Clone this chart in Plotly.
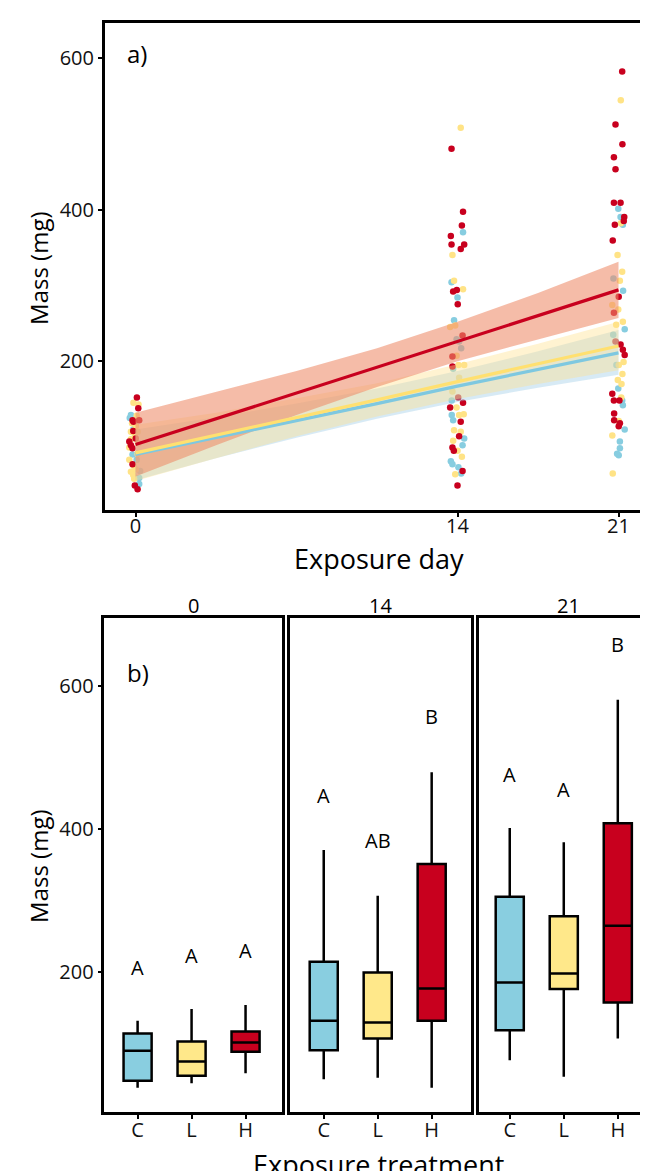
import plotly.graph_objects as go

W, H = 648, 1171
def px(p): return p / W
def py(p): return 1 - p / H

FONT = "Open Sans"
treatments = ["C", "L", "H"]
point_colors = {"C": "#87CDE0", "L": "#FFE386", "H": "#C8001E"}
line_colors = {"C": "#7EC8E0", "L": "#FFE070", "H": "#C8001E"}
box_colors = {"C": "#89CEE0", "L": "#FFE88A", "H": "#C8001E"}
band_colors = {"C": "rgba(150,200,230,0.38)", "L": "rgba(255,226,140,0.40)", "H": "rgba(238,140,105,0.58)"}
days = [0, 14, 21]
day_labels = ["0", "14", "21"]

# ---- panel a: individual masses (day, jitter offset, mass) ----
C_day0_jit = [-0.2, -0.06, 0.12, -0.13, 0.16, 0.16, -0.25, 0.0, -0.1, 0.05, 0.2]
C_day0_mass = [129, 122, 92, 77, 46, 38, 125, 115, 110, 70, 55]
C_day14_jit = [0.24, -0.26, 0.0, -0.15, -0.04, 0.07, 0.16, -0.19, -0.25, -0.25, -0.19, 0.29, 0.22, -0.29, -0.22, 0.04, 0.16]
C_day14_mass = [370, 304, 284, 254, 229, 226, 217, 190, 148, 129, 122, 98, 89, 68, 64, 60, 52]
C_day21_jit = [-0.01, 0.09, 0.19, -0.22, 0.2, 0.27, -0.23, -0.09, -0.01, 0.19, 0.16, 0.27, 0.06, 0.06, 0.01, -0.06]
C_day21_mass = [401, 390, 380, 309, 293, 242, 235, 195, 164, 142, 148, 110, 94, 85, 76, 78]

L_day0_jit = [-0.09, 0.13, 0.01, -0.2, 0.09, -0.03, -0.2, -0.27, 0.09, -0.27, -0.09, -0.2, 0.01, -0.06, 0.05, -0.15, 0.1, -0.1]
L_day0_mass = [145, 143, 114, 107, 107, 101, 97, 86, 78, 70, 62, 54, 57, 45, 128, 118, 92, 50]
L_day14_jit = [0.14, -0.22, -0.15, 0.24, -0.32, -0.1, -0.04, 0.29, 0.04, 0.07, -0.04, 0.07, -0.15, 0.14, -0.19, 0.0, 0.19, -0.1, -0.22, 0.27]
L_day14_mass = [508, 340, 306, 295, 245, 247, 207, 195, 195, 178, 139, 129, 109, 107, 95, 82, 74, 51, 160, 130]
L_day21_jit = [0.1, 0.1, -0.04, 0.16, 0.06, -0.27, -0.01, -0.1, 0.19, 0.22, 0.01, 0.17, -0.03, 0.13, 0.12, 0.01, -0.27, -0.25]
L_day21_mass = [544, 382, 340, 318, 306, 274, 268, 248, 252, 199, 195, 183, 175, 170, 152, 121, 102, 52]

H_day0_jit = [0.06, 0.12, -0.13, 0.16, -0.09, 0.01, -0.27, -0.2, -0.1, -0.13, -0.13, -0.03, 0.09]
H_day0_mass = [152, 138, 122, 122, 120, 98, 94, 89, 108, 85, 64, 36, 31]
H_day14_jit = [-0.26, 0.24, 0.19, -0.29, -0.26, 0.29, 0.14, -0.19, -0.03, 0.01, 0.22, -0.22, 0.24, -0.32, 0.14, 0.07, -0.22, -0.16, 0.22, 0.0, -0.22, 0.03]
H_day14_mass = [480, 397, 379, 365, 354, 354, 348, 292, 294, 275, 234, 206, 145, 139, 120, 101, 86, 82, 55, 36, 193, 152]
H_day21_jit = [0.16, -0.13, 0.17, -0.2, -0.13, -0.2, 0.09, 0.25, 0.23, -0.16, -0.25, 0.01, -0.2, -0.13, 0.09, 0.19, 0.27, -0.27, -0.2, 0.04, -0.19, -0.19, 0.06, 0.01]
H_day21_mass = [582, 512, 486, 469, 453, 409, 409, 390, 385, 380, 359, 285, 264, 226, 222, 215, 208, 157, 148, 148, 131, 122, 118, 114]

# ---- panel a: linear fits with 95% CI ----
fit_x = [0, 3.5, 7, 10.5, 14, 17.5, 21]
C_fit = [77, 99, 122, 144, 167, 189, 211]
C_lo = [43, 72, 99, 124, 146, 165, 182]
C_hi = [110, 126, 144, 164, 187, 213, 241]
L_fit = [79, 102, 126, 149, 173, 196, 220]
L_lo = [42, 72, 101, 127, 150, 170, 188]
L_hi = [116, 132, 151, 171, 196, 223, 252]
H_fit = [90, 124, 158, 192, 226, 260, 294]
H_lo = [48, 89, 129, 166, 200, 229, 257]
H_hi = [132, 159, 187, 217, 252, 290, 331]

# ---- panel b: box statistics per day (order C, L, H) ----
day0_low = [39, 45, 59]
day0_q1 = [48.5, 55.5, 89]
day0_med = [90.5, 75.5, 102]
day0_q3 = [114.7, 103.5, 117.5]
day0_high = [132.6, 148.7, 154.3]
day14_low = [50.8, 53, 39]
day14_q1 = [91.4, 107.7, 132.4]
day14_med = [132.4, 130, 177.6]
day14_q3 = [215, 200, 351.5]
day14_high = [371, 307, 479.7]
day21_low = [77.3, 54.1, 107.7]
day21_q1 = [119.3, 176.7, 158]
day21_med = [186, 198.6, 265.3]
day21_q3 = [305.8, 278.3, 408.4]
day21_high = [401.8, 381.8, 580.8]
day0_letters = ["A", "A", "A"]
day14_letters = ["A", "AB", "B"]
day21_letters = ["A", "A", "B"]

scatter = {
    "C": [(C_day0_jit, C_day0_mass), (C_day14_jit, C_day14_mass), (C_day21_jit, C_day21_mass)],
    "L": [(L_day0_jit, L_day0_mass), (L_day14_jit, L_day14_mass), (L_day21_jit, L_day21_mass)],
    "H": [(H_day0_jit, H_day0_mass), (H_day14_jit, H_day14_mass), (H_day21_jit, H_day21_mass)],
}
fits = {"C": (C_fit, C_lo, C_hi), "L": (L_fit, L_lo, L_hi), "H": (H_fit, H_lo, H_hi)}
boxstats = [
    (day0_low, day0_q1, day0_med, day0_q3, day0_high, day0_letters),
    (day14_low, day14_q1, day14_med, day14_q3, day14_high, day14_letters),
    (day21_low, day21_q1, day21_med, day21_q3, day21_high, day21_letters),
]
letter_y = [[207, 224, 231], [447, 384, 557], [477, 456, 658]]

fig = go.Figure()

# points
for t in ["C", "L", "H"]:
    xs, ys = [], []
    for d, (jit, mass) in zip(days, scatter[t]):
        xs += [d + j for j in jit]
        ys += mass
    fig.add_trace(go.Scatter(x=xs, y=ys, mode="markers", xaxis="x", yaxis="y",
                             marker=dict(color=point_colors[t], size=6.5, line=dict(width=0)),
                             showlegend=False, hoverinfo="skip"))
# bands
for t in ["C", "L", "H"]:
    fit, lo, hi = fits[t]
    fig.add_trace(go.Scatter(x=fit_x + fit_x[::-1], y=hi + lo[::-1], fill="toself",
                             fillcolor=band_colors[t], line=dict(width=0), mode="lines",
                             xaxis="x", yaxis="y", showlegend=False, hoverinfo="skip"))
# lines
for t in ["C", "L", "H"]:
    fit, lo, hi = fits[t]
    fig.add_trace(go.Scatter(x=fit_x, y=fit, mode="lines", line=dict(color=line_colors[t], width=3.2),
                             xaxis="x", yaxis="y", showlegend=False, hoverinfo="skip"))

# boxes
for k, (low, q1, med, q3, high, letters) in enumerate(boxstats):
    xa = "x%d" % (k + 2)
    ya = "y%d" % (k + 2)
    for i, t in enumerate(treatments):
        fig.add_trace(go.Box(x=[i + 1], lowerfence=[low[i]], q1=[q1[i]], median=[med[i]],
                             q3=[q3[i]], upperfence=[high[i]], fillcolor=box_colors[t],
                             line=dict(color="black", width=2.5), width=0.52, whiskerwidth=0,
                             boxpoints=False, xaxis=xa, yaxis=ya, showlegend=False,
                             hoverinfo="skip"))
        fig.add_annotation(x=i + 1, y=letter_y[k][i], xref=xa, yref=ya, text=letters[i],
                           showarrow=False, font=dict(family=FONT, size=20, color="black"),
                           xanchor="center", yanchor="middle")

axis_common = dict(showline=True, linecolor="black", linewidth=2.5, showgrid=False, zeroline=False,
                   ticks="outside", ticklen=4, tickwidth=1.5, tickcolor="black",
                   tickfont=dict(family=FONT, size=20, color="#111"))

facet_dom = [(96.7, 275), (283.3, 464.3), (472.3, 648)]
facet_rng = [(0.385, 3.678), (0.383, 3.726), (0.428, 3.67)]
top_dom_y = (py(502), py(15))
bot_dom_y = (py(1104), py(610))

layout = dict(
    width=W, height=H, margin=dict(l=0, r=0, t=0, b=0),
    paper_bgcolor="white", plot_bgcolor="white", boxmode="overlay",
    xaxis=dict(axis_common, domain=[px(97), px(647)], range=[-1.34, 22.5], mirror=True,
               tickvals=days, ticktext=day_labels, anchor="y", ticklabelstandoff=-8),
    yaxis=dict(axis_common, domain=list(top_dom_y), range=[3.7, 646], mirror=True,
               tickvals=[200, 400, 600], anchor="x"),
)
for k in range(3):
    n = k + 2
    layout["xaxis%d" % n] = dict(axis_common, domain=[px(facet_dom[k][0]), px(facet_dom[k][1])],
                                  range=list(facet_rng[k]), mirror=True, tickvals=[1, 2, 3],
                                  ticktext=treatments, anchor="y%d" % n, ticklabelstandoff=-6)
    yax = dict(axis_common, domain=list(bot_dom_y), range=[5, 695], anchor="x%d" % n,
               tickvals=[200, 400, 600], mirror=(k < 2))
    if k > 0:
        yax.update(showticklabels=False, ticks="")
    layout["yaxis%d" % n] = yax
fig.update_layout(**layout)

# text annotations
def ann(text, x, y, size, angle=0, xanchor="center"):
    fig.add_annotation(text=text, x=px(x), y=py(y), xref="paper", yref="paper", showarrow=False,
                       textangle=angle, xanchor=xanchor, yanchor="middle",
                       font=dict(family=FONT, size=size, color="black"))

ann("a)", 117, 46, 24, xanchor="left")
ann("b)", 117, 664, 24, xanchor="left")
ann("Mass (mg)", 30, 260, 24, angle=-90)
ann("Mass (mg)", 30, 858, 24, angle=-90)
ann("Exposure day", 372, 550, 27)
ann("Exposure treatment", 372, 1156, 27)
for k in range(3):
    ann(day_labels[k], (facet_dom[k][0] + facet_dom[k][1] + (4 if k == 2 else 0)) / 2, 597, 20)

fig.write_html("out.html")
